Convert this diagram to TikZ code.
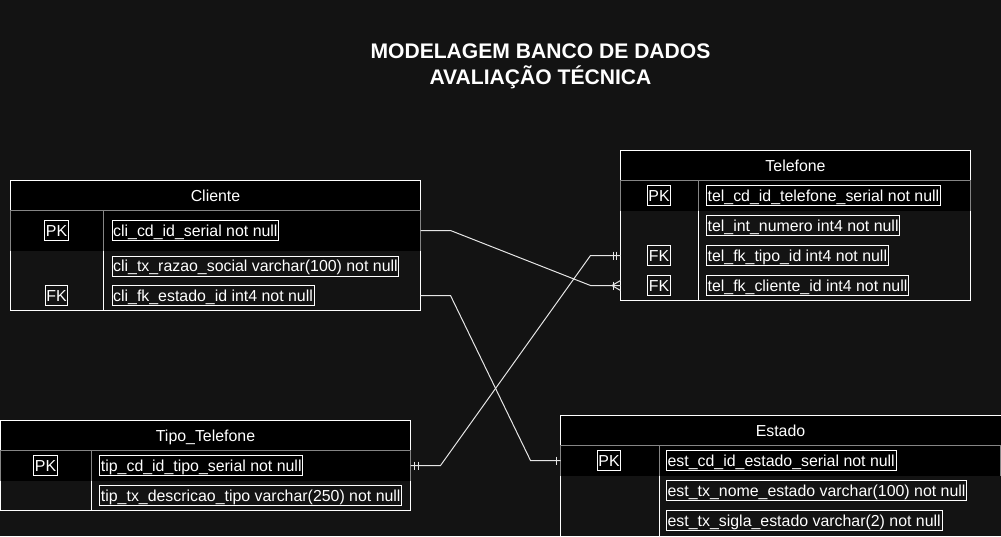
\documentclass[tikz,border=0pt]{standalone}
\usepackage{fontspec}
\setmainfont{Liberation Sans}
\usetikzlibrary{calc}
\definecolor{bg}{HTML}{131313}
\definecolor{midgray}{HTML}{858585}
\definecolor{linegray}{HTML}{E6E6E6}
\begin{document}
\begin{tikzpicture}[x=1pt,y=-1pt,
  fld/.style={draw=white, text=white, font=\fontsize{15.9}{18}\selectfont, inner xsep=1.2pt, inner ysep=0pt, text height=15.5pt, text depth=4.1pt, minimum height=20pt, anchor=west, line width=0.9pt},
  keybox/.style={fld, anchor=center},
  hdr/.style={text=white, font=\fontsize{15.9}{18}\selectfont, text height=15pt, text depth=2.2pt, inner sep=0pt},
  tbl/.style={draw=white, line width=1pt},
  pkedge/.style={draw=midgray, line width=1pt},
  conn/.style={draw=linegray, line width=1pt},
  tickmark/.style={draw=linegray, line width=1pt}
]
\fill[bg] (0,0) rectangle (1001,536);
\useasboundingbox (0,0) rectangle (1001,536);

% Title
\node[text=white, font=\fontsize{21.1}{26}\selectfont\bfseries, align=center] (title) at (540.5,66) {MODELAGEM BANCO DE DADOS\\AVALIAÇÃO TÉCNICA};

% ---------- Cliente ----------
\fill[black] (10.5,180.5) rectangle (420.5,250.5);
\draw[tbl] (10.5,180.5) rectangle (420.5,310.5);
\draw[pkedge] (10.5,250.5) -- (10.5,210.5) -- (420.5,210.5) -- (420.5,250.5);
\draw[pkedge] (103.5,210.5) -- (103.5,250.5);
\draw[tbl] (103.5,250.5) -- (103.5,310.5);
\node[hdr] (cliH) at (215.5,195.5) {Cliente};
\node[keybox] (cliPKk) at (56.5,230.5) {PK};
\node[keybox] (cliFKk) at (56.5,295.5) {FK};
\node[fld] (cliPK) at (111.5,230.5) {cli\_cd\_id\_serial not null};
\node[fld] (cliRz) at (111.5,266) {cli\_tx\_razao\_social varchar(100) not null};
\node[fld] (cliFK) at (111.5,295.5) {cli\_fk\_estado\_id int4 not null};
\coordinate (cliPKr) at (420.5,230.5);
\coordinate (cliFKr) at (420.5,295.5);

% ---------- Telefone ----------
\fill[black] (620.5,150.5) rectangle (970.5,210.5);
\draw[tbl] (620.5,150.5) rectangle (970.5,300.5);
\draw[pkedge] (620.5,210.5) -- (620.5,180.5) -- (970.5,180.5) -- (970.5,210.5);
\draw[pkedge] (698.5,180.5) -- (698.5,210.5);
\draw[tbl] (698.5,210.5) -- (698.5,300.5);
\node[hdr] (telH) at (795.5,165.5) {Telefone};
\node[keybox] (telPKk) at (659,195.5) {PK};
\node[keybox] (telFK1k) at (659,255.5) {FK};
\node[keybox] (telFK2k) at (659,285.5) {FK};
\node[fld] (telPK) at (706,195.5) {tel\_cd\_id\_telefone\_serial not null};
\node[fld] (telNum) at (706,225.5) {tel\_int\_numero int4 not null};
\node[fld] (telTp) at (706,255.5) {tel\_fk\_tipo\_id int4 not null};
\node[fld] (telCl) at (706,285.5) {tel\_fk\_cliente\_id int4 not null};
\coordinate (telTpl) at (620.5,255.5);
\coordinate (telCll) at (620.5,285.5);

% ---------- Tipo_Telefone ----------
\fill[black] (0.5,420.5) rectangle (410.5,480.5);
\draw[tbl] (0.5,420.5) rectangle (410.5,510.5);
\draw[pkedge] (0.5,480.5) -- (0.5,450.5) -- (410.5,450.5) -- (410.5,480.5);
\draw[pkedge] (91.5,450.5) -- (91.5,480.5);
\draw[tbl] (91.5,480.5) -- (91.5,510.5);
\node[hdr] (tipH) at (205.5,435.5) {Tipo\_Telefone};
\node[keybox] (tipPKk) at (45.5,465.5) {PK};
\node[fld] (tipPK) at (99.3,465.5) {tip\_cd\_id\_tipo\_serial not null};
\node[fld] (tipDs) at (99.3,495.5) {tip\_tx\_descricao\_tipo varchar(250) not null};
\coordinate (tipPKr) at (410.5,465.5);

% ---------- Estado ----------
\fill[black] (560.5,415.5) rectangle (1002,475.5);
\draw[tbl] (560.5,415.5) rectangle (1002,550);
\draw[pkedge] (560.5,475.5) -- (560.5,445.5) -- (1002,445.5);
\draw[pkedge] (1000.5,445.5) -- (1000.5,475.5);
\draw[pkedge] (659,445.5) -- (659,475.5);
\draw[tbl] (659,475.5) -- (659,550);
\node[hdr] (estH) at (780.5,430.5) {Estado};
\node[keybox] (estPKk) at (609,460.5) {PK};
\node[fld] (estPK) at (666,460.5) {est\_cd\_id\_estado\_serial not null};
\node[fld] (estNm) at (666,490.5) {est\_tx\_nome\_estado varchar(100) not null};
\node[fld] (estSg) at (666,520.5) {est\_tx\_sigla\_estado varchar(2) not null};
\coordinate (estPKl) at (560.5,460.5);

% ---------- Connectors ----------
% Cliente PK -> Telefone FK cliente (one to many)
\draw[conn] (cliPKr) -- ++(30,0) -- ($(telCll)+(-30,0)$) -- (telCll);
\draw[tickmark] ($(telCll)+(-7.5,-4)$) -- ++(0,8);
\draw[tickmark] ($(telCll)+(-8.5,0)$) -- ($(telCll)+(0,-5)$);
\draw[tickmark] ($(telCll)+(-8.5,0)$) -- ($(telCll)+(0,5)$);

% Tipo_Telefone PK -> Telefone FK tipo (mandatory one both ends)
\draw[conn] (tipPKr) -- ++(30,0) -- ($(telTpl)+(-30,0)$) -- (telTpl);
\draw[tickmark] ($(telTpl)+(-7.5,-4)$) -- ++(0,8);
\draw[tickmark] ($(telTpl)+(-4.5,-4)$) -- ++(0,8);
\draw[tickmark] ($(tipPKr)+(4,-4)$) -- ++(0,8);
\draw[tickmark] ($(tipPKr)+(7.5,-4)$) -- ++(0,8);

% Cliente FK estado -> Estado PK (one)
\draw[conn] (cliFKr) -- ++(30,0) -- ($(estPKl)+(-30,0)$) -- (estPKl);
\draw[tickmark] ($(estPKl)+(-4,-4)$) -- ++(0,8);
\end{tikzpicture}
\end{document}
